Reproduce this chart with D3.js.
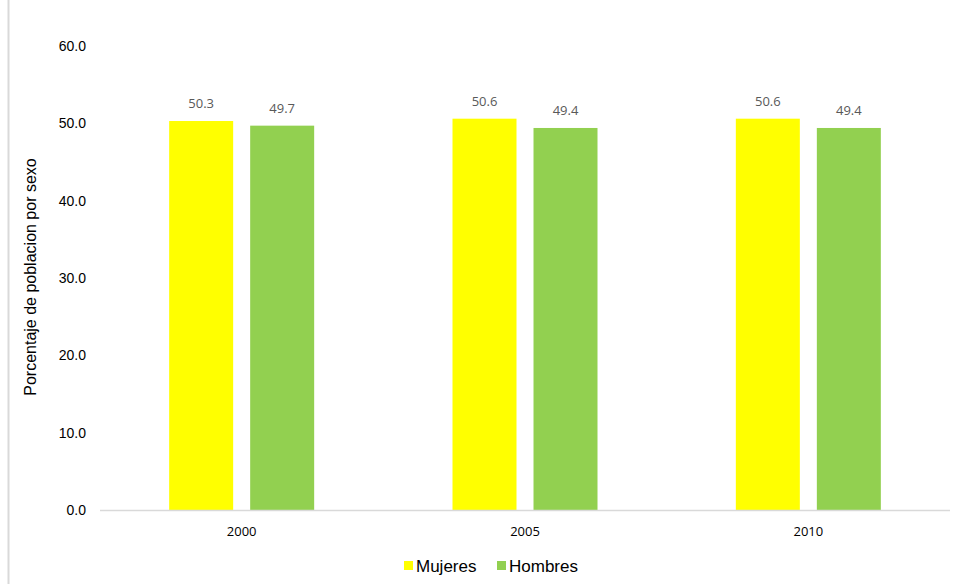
<!DOCTYPE html>
<html><head><meta charset="utf-8">
<script src="https://cdn.jsdelivr.net/npm/d3@7"></script>
<style>body{margin:0;background:#fff}svg{display:block}</style>
</head><body>
<script>
const categories = ["2000", "2005", "2010"];
const seriesNames = ["Mujeres", "Hombres"];
const mujeres = [50.3, 50.6, 50.6];
const hombres = [49.7, 49.4, 49.4];
const yTicks = [0, 10, 20, 30, 40, 50, 60];
const colors = ["#FFFF00", "#92D050"];

const W = 954, H = 584;
const svg = d3.select("body").append("svg").attr("width", W).attr("height", H);
const font = "'Liberation Sans', Arial, sans-serif";

// left border line
svg.append("line").attr("x1", 8.5).attr("x2", 8.5).attr("y1", 0).attr("y2", H)
  .attr("stroke", "#d9d9d9").attr("stroke-width", 2);

const x = d3.scaleBand().domain(categories).range([100, 950]);
const y = d3.scaleLinear().domain([0, 60]).range([510, 46]);
const xs = d3.scaleBand().domain(seriesNames).range([0, 145]).paddingInner(0.21);

// y tick labels
svg.append("g").selectAll("text").data(yTicks).join("text")
  .attr("x", 86).attr("y", d => y(d)).attr("dy", "0.35em")
  .attr("text-anchor", "end").attr("font-family", font).attr("font-size", 14)
  .attr("fill", "#000").text(d => d.toFixed(1));

// bars
const data = categories.map((c, i) => ({c, vals: [mujeres[i], hombres[i]]}));
const groups = svg.append("g").selectAll("g").data(data).join("g")
  .attr("transform", d => `translate(${x(d.c) + x.bandwidth()/2 - 72.5},0)`);
groups.selectAll("rect").data(d => d.vals.map((v, j) => ({v, s: seriesNames[j], j})))
  .join("rect")
  .attr("x", d => xs(d.s)).attr("width", xs.bandwidth())
  .attr("y", d => y(d.v)).attr("height", d => y(0) - y(d.v))
  .attr("fill", d => colors[d.j]);
groups.selectAll("text").data(d => d.vals.map((v, j) => ({v, s: seriesNames[j]})))
  .join("text")
  .attr("x", d => xs(d.s) + xs.bandwidth()/2).attr("y", d => y(d.v) - 13)
  .attr("text-anchor", "middle").attr("font-family", "'Open Sans', 'DejaVu Sans', sans-serif")
  .attr("font-size", 13).attr("fill", "#595959").text(d => d.v.toFixed(1));

// x axis line
svg.append("line").attr("x1", 100).attr("x2", 950).attr("y1", y(0) + 0.5).attr("y2", y(0) + 0.5)
  .attr("stroke", "#d9d9d9").attr("stroke-width", 1.5);

// x tick labels
svg.append("g").selectAll("text").data(categories).join("text")
  .attr("x", d => x(d) + x.bandwidth()/2).attr("y", 531).attr("dy", "0.35em")
  .attr("text-anchor", "middle").attr("font-family", "'Open Sans', 'DejaVu Sans', sans-serif")
  .attr("font-size", 13).attr("fill", "#000").text(d => d);

// y axis title
svg.append("text").attr("transform", "translate(36,277) rotate(-90)")
  .attr("text-anchor", "middle").attr("font-family", font).attr("font-size", 16)
  .attr("fill", "#000").text("Porcentaje de poblacion por sexo");

// legend
const legend = svg.append("g");
const legX = [404, 497];
seriesNames.forEach((s, i) => {
  legend.append("rect").attr("x", legX[i]).attr("y", 561).attr("width", 9).attr("height", 9).attr("fill", colors[i]);
  legend.append("text").attr("x", legX[i] + 12).attr("y", 566).attr("dy", "0.35em")
    .attr("font-family", font).attr("font-size", 17).attr("fill", "#000").text(s);
});
</script>
</body></html>
